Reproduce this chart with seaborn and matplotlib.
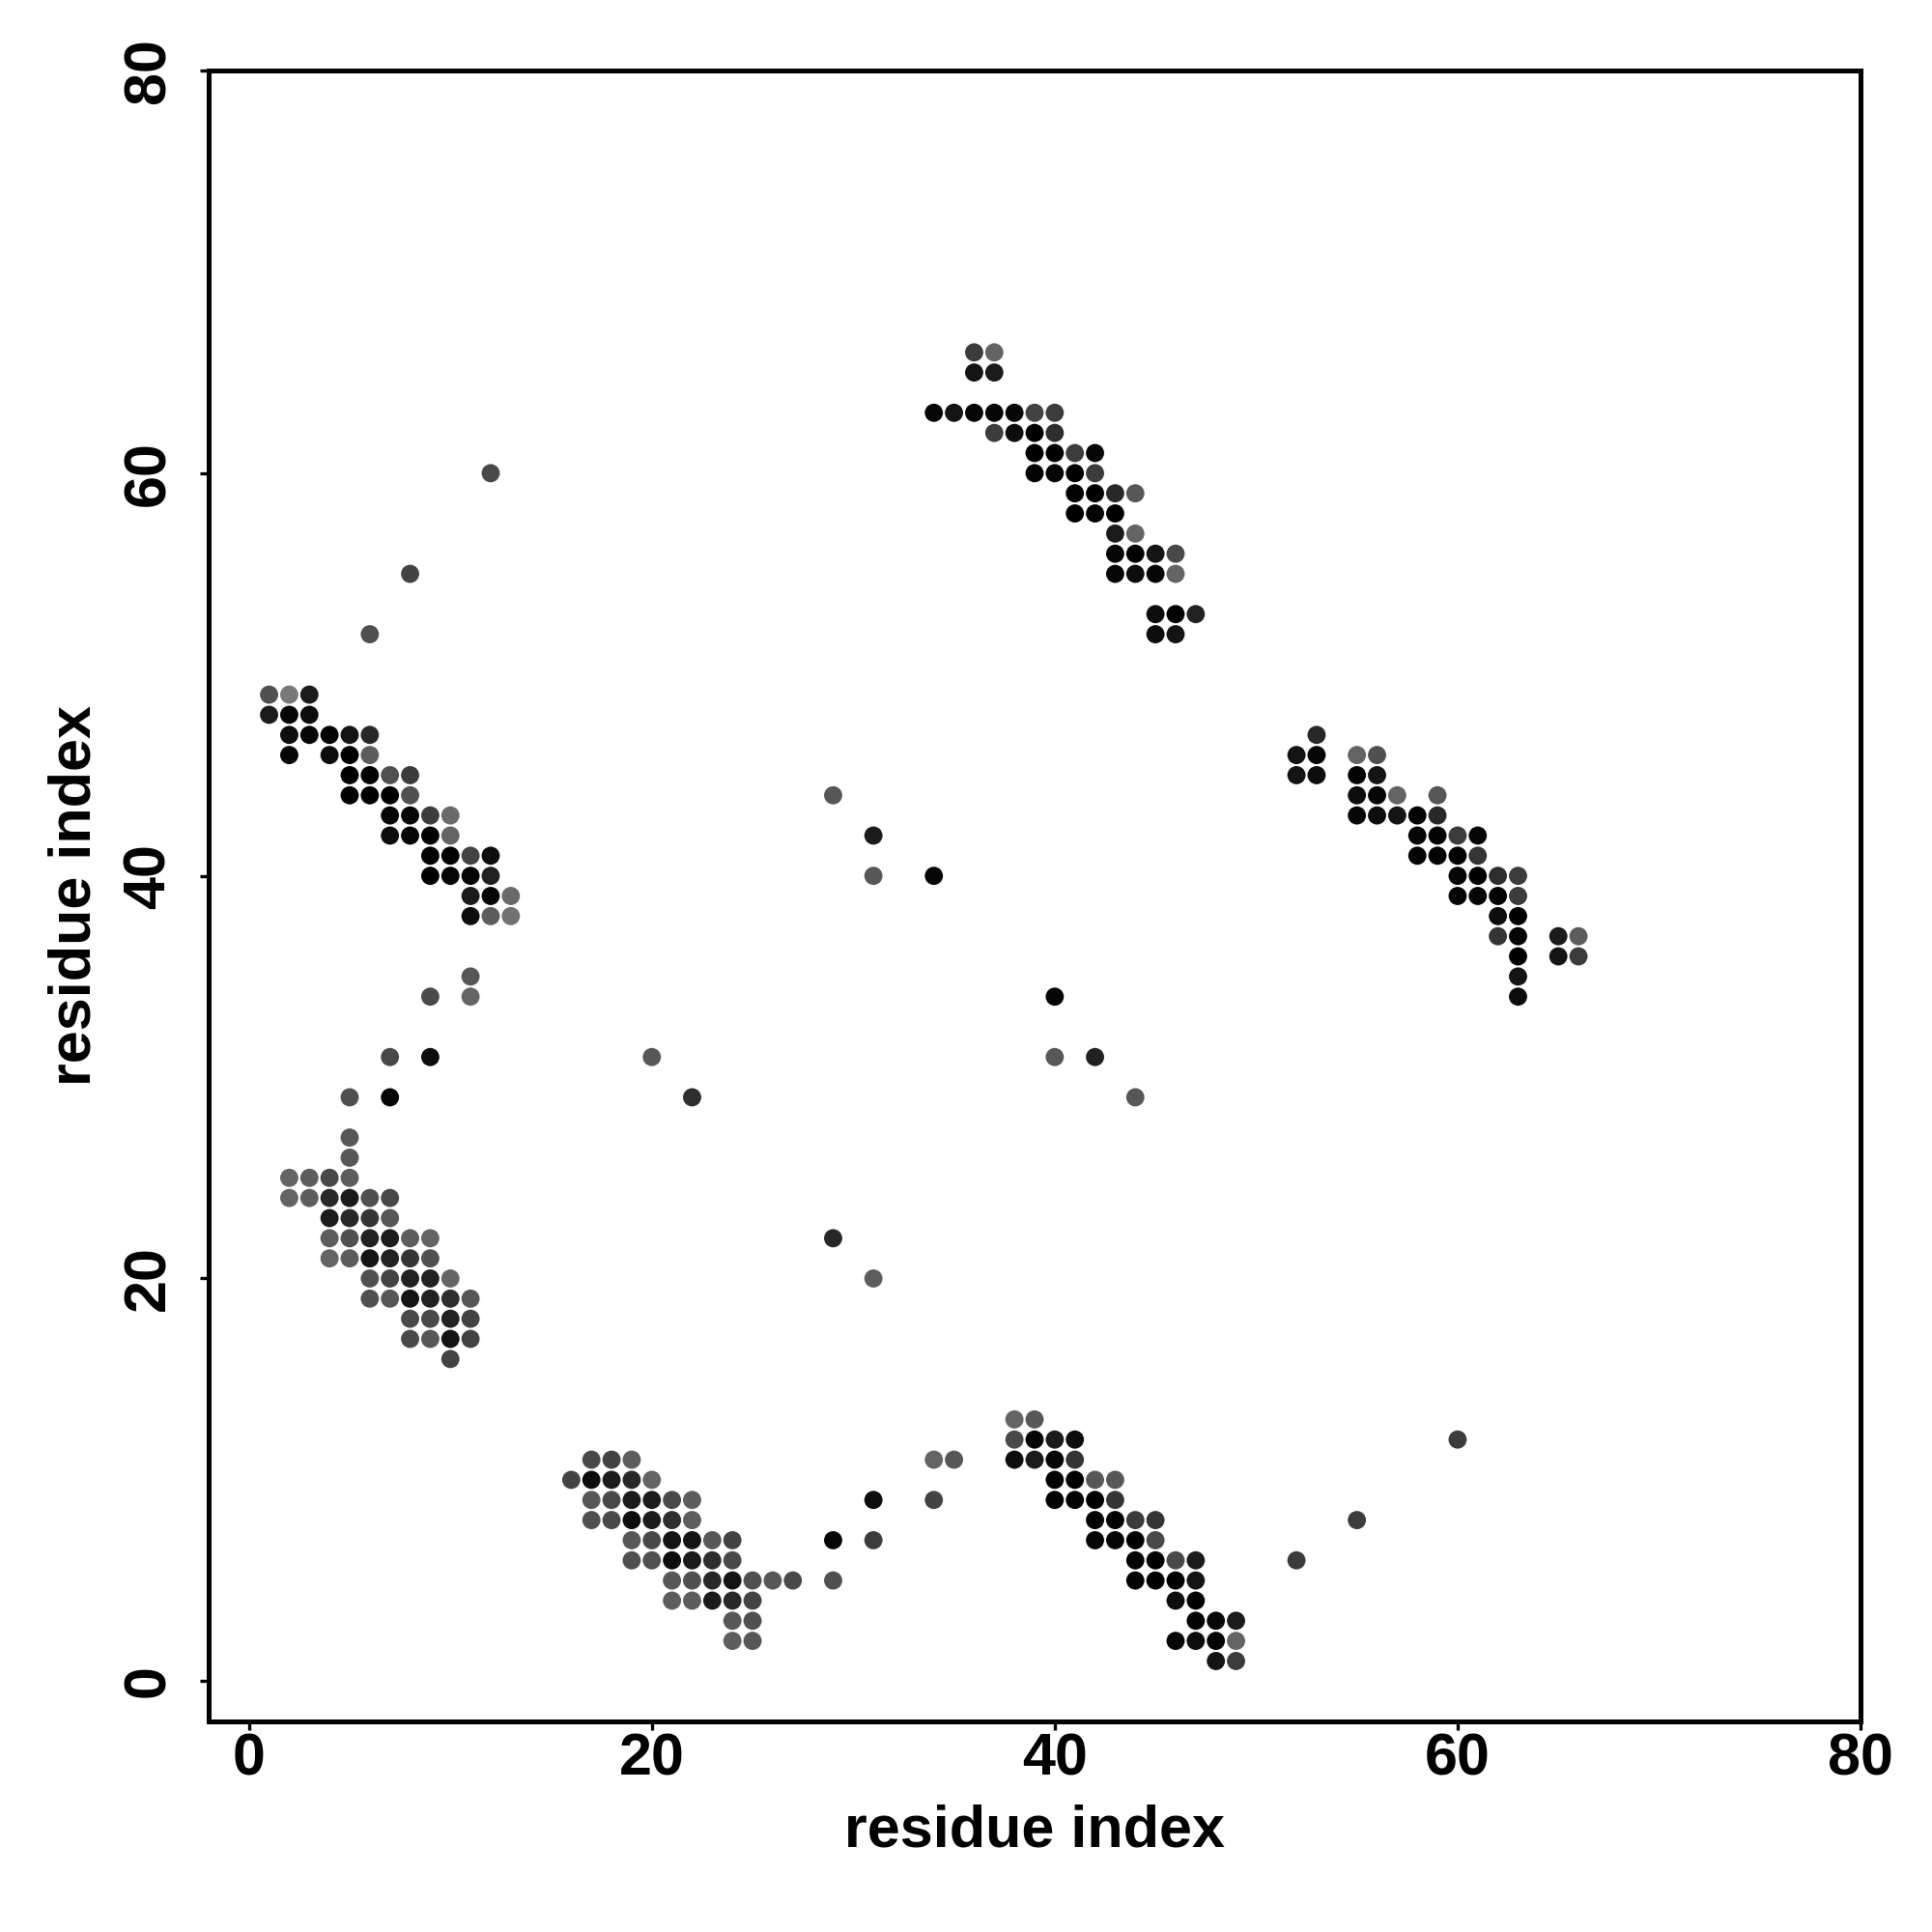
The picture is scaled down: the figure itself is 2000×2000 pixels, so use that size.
import numpy as np
import pandas as pd
import matplotlib
matplotlib.use("Agg")
import matplotlib.pyplot as plt
from matplotlib.colors import LinearSegmentedColormap
import seaborn as sns

# (x residue, y residue, lightness: 0 = black ... 1 = light gray)
cluster_a = [
    (1,49,0.6),(2,49,0.9),(3,49,0.2),
    (1,48,0.2),(2,48,0.05),(3,48,0.1),
    (2,47,0.1),(3,47,0.05),(4,47,0),(5,47,0.15),(6,47,0.3),
    (2,46,0.05),(4,46,0.1),(5,46,0),(6,46,0.7),
    (5,45,0),(6,45,0),(7,45,0.6),(8,45,0.45),
    (5,44,0),(6,44,0),(7,44,0),(8,44,0.6),
    (7,43,0.05),(8,43,0.05),(9,43,0.45),(10,43,0.8),
    (7,42,0.1),(8,42,0.05),(9,42,0),(10,42,0.75),
    (9,41,0),(10,41,0),(11,41,0.5),(12,41,0.1),
    (9,40,0),(10,40,0.03),(11,40,0.03),(12,40,0.25),
    (11,39,0.2),(12,39,0.05),(13,39,0.8),
    (11,38,0.1),(12,38,0.7),(13,38,0.85),
]

cluster_b = [
    (5,27,0.65),(5,26,0.65),
    (2,25,0.75),(3,25,0.7),(4,25,0.55),(5,25,0.7),
    (2,24,0.75),(3,24,0.7),(4,24,0.3),(5,24,0.2),(6,24,0.6),(7,24,0.55),
    (4,23,0.2),(5,23,0.3),(6,23,0.4),(7,23,0.65),
    (4,22,0.7),(5,22,0.6),(6,22,0.25),(7,22,0.2),(8,22,0.7),(9,22,0.75),
    (4,21,0.75),(5,21,0.7),(6,21,0.15),(7,21,0.25),(8,21,0.4),(9,21,0.6),
    (6,20,0.6),(7,20,0.5),(8,20,0.25),(9,20,0.25),(10,20,0.75),
    (6,19,0.6),(7,19,0.65),(8,19,0.15),(9,19,0.25),(10,19,0.35),(11,19,0.65),
    (8,18,0.55),(9,18,0.55),(10,18,0.25),(11,18,0.5),
    (8,17,0.55),(9,17,0.65),(10,17,0.15),(11,17,0.5),
    (10,16,0.5),
]

cluster_c = [
    (17,11,0.55),(18,11,0.5),(19,11,0.7),
    (16,10,0.5),(17,10,0.1),(18,10,0.2),(19,10,0.3),(20,10,0.75),
    (17,9,0.65),(18,9,0.55),(19,9,0.2),(20,9,0.2),(21,9,0.55),(22,9,0.7),
    (17,8,0.6),(18,8,0.55),(19,8,0.1),(20,8,0.2),(21,8,0.35),(22,8,0.7),
    (19,7,0.65),(20,7,0.55),(21,7,0.15),(22,7,0.15),(23,7,0.65),(24,7,0.5),
    (19,6,0.6),(20,6,0.6),(21,6,0.1),(22,6,0.2),(23,6,0.35),(24,6,0.55),
    (21,5,0.65),(22,5,0.6),(23,5,0.3),(24,5,0.15),(25,5,0.6),(26,5,0.65),(27,5,0.55),
    (21,4,0.7),(22,4,0.7),(23,4,0.2),(24,4,0.3),(25,4,0.5),
    (24,3,0.65),(25,3,0.6),
    (24,2,0.7),(25,2,0.65),
]

cluster_d = [
    (38,13,0.75),(39,13,0.65),
    (38,12,0.55),(39,12,0.05),(40,12,0.2),(41,12,0.1),
    (34,11,0.75),(35,11,0.65),(38,11,0.1),(39,11,0.2),(40,11,0.05),(41,11,0.4),
    (40,10,0.02),(41,10,0),(42,10,0.65),(43,10,0.65),
    (34,9,0.5),(40,9,0.02),(41,9,0.02),(42,9,0),(43,9,0.4),
    (42,8,0.02),(43,8,0),(44,8,0.45),(45,8,0.4),
    (42,7,0.05),(43,7,0.05),(44,7,0),(45,7,0.55),
    (44,6,0.02),(45,6,0),(46,6,0.55),(47,6,0.2),
    (44,5,0.02),(45,5,0),(46,5,0),(47,5,0.15),
    (46,4,0.1),(47,4,0),
    (47,3,0.02),(48,3,0.05),(49,3,0.2),
    (46,2,0.05),(47,2,0.1),(48,2,0.02),(49,2,0.75),
    (48,1,0.15),(49,1,0.45),
]

cluster_e = [
    (36,66,0.45),(37,66,0.75),
    (36,65,0.15),(37,65,0.2),
    (34,63,0.05),(35,63,0.15),(36,63,0.05),(37,63,0.05),(38,63,0.05),(39,63,0.5),(40,63,0.45),
    (37,62,0.45),(38,62,0.1),(39,62,0),(40,62,0.35),
    (39,61,0),(40,61,0),(41,61,0.45),(42,61,0.05),
    (39,60,0.02),(40,60,0.05),(41,60,0),(42,60,0.45),
    (41,59,0.02),(42,59,0),(43,59,0.3),(44,59,0.65),
    (41,58,0),(42,58,0.02),(43,58,0),
    (43,57,0.2),(44,57,0.75),
    (43,56,0.05),(44,56,0),(45,56,0.15),(46,56,0.55),
    (43,55,0.05),(44,55,0.1),(45,55,0.05),(46,55,0.75),
    (45,53,0.1),(46,53,0),(47,53,0.25),
    (45,52,0.1),(46,52,0.15),
]

cluster_f = [
    (53,47,0.3),
    (52,46,0.15),(53,46,0.05),(55,46,0.75),(56,46,0.6),
    (52,45,0.15),(53,45,0.1),(55,45,0.02),(56,45,0.15),
    (55,44,0.1),(56,44,0.05),(57,44,0.75),(59,44,0.65),
    (55,43,0.05),(56,43,0.1),(57,43,0.15),(58,43,0),(59,43,0.3),
    (58,42,0.05),(59,42,0.02),(60,42,0.45),(61,42,0.05),
    (58,41,0.02),(59,41,0.02),(60,41,0),(61,41,0.4),
    (60,40,0.05),(61,40,0),(62,40,0.35),(63,40,0.45),
    (60,39,0.05),(61,39,0.05),(62,39,0),(63,39,0.45),
    (62,38,0.1),(63,38,0),
    (62,37,0.4),(63,37,0.05),(65,37,0.2),(66,37,0.7),
    (63,36,0),(65,36,0.15),(66,36,0.45),
    (63,35,0.15),
    (63,34,0.1),
]

scattered = [
    (12,60,0.55),(8,55,0.5),(6,52,0.6),(9,34,0.55),(11,35,0.65),(11,34,0.75),
    (7,31,0.55),(9,31,0.1),(5,29,0.6),(7,29,0.05),
    (20,31,0.65),(22,29,0.35),(29,44,0.65),(31,42,0.2),(31,40,0.65),(34,40,0.05),
    (40,34,0.05),(40,31,0.65),(42,31,0.25),(44,29,0.65),(29,22,0.3),(31,20,0.7),
    (31,9,0.1),(31,7,0.45),(29,7,0.05),(29,5,0.6),(60,12,0.45),(55,8,0.45),(52,6,0.45),
]

x_ticks = [0, 20, 40, 60, 80]
y_ticks = [0, 20, 40, 60, 80]
x_label = "residue index"
y_label = "residue index"

rows = cluster_a + cluster_b + cluster_c + cluster_d + cluster_e + cluster_f + scattered
df = pd.DataFrame(rows, columns=["i", "j", "lightness"])

sns.set_style("white")
plt.rcParams["font.family"] = ["Liberation Sans", "DejaVu Sans"]
plt.rcParams["font.weight"] = "bold"
plt.rcParams["text.color"] = "black"
plt.rcParams["axes.labelcolor"] = "black"
plt.rcParams["xtick.color"] = "black"
plt.rcParams["ytick.color"] = "black"

cmap = LinearSegmentedColormap.from_list("blk2gray", ["#000000", "#858585"])

fig = plt.figure(figsize=(10, 10), dpi=200)
ax = fig.add_axes([0.108, 0.109, 0.963 - 0.108, 0.9635 - 0.109])
sns.scatterplot(data=df, x="i", y="j", hue="lightness", palette=cmap,
                hue_norm=(0, 1), s=46, linewidth=0, legend=False, ax=ax)

ax.set_xlim(-2, 80)
ax.set_ylim(-2, 80)
ax.set_xticks(x_ticks)
ax.set_yticks(y_ticks)
ax.set_xticklabels([str(t) for t in x_ticks], fontsize=22, fontweight="bold", color="black")
ax.set_yticklabels([str(t) for t in y_ticks], fontsize=22, fontweight="bold",
                   rotation=90, va="center", color="black")
ax.set_xlabel(x_label, fontsize=22, fontweight="bold", labelpad=6, color="black")
ax.set_ylabel(y_label, fontsize=22, fontweight="bold", labelpad=7, color="black")

for sp in ax.spines.values():
    sp.set_linewidth(1.8)
    sp.set_color("black")
ax.tick_params(axis="both", direction="out", length=3.2, width=1.2, color="black",
               labelcolor="black", bottom=True, left=True, top=False, right=False)
ax.tick_params(axis="x", pad=1)
ax.tick_params(axis="y", pad=8.6)

fig.savefig("out.png", dpi=200, facecolor="white")
